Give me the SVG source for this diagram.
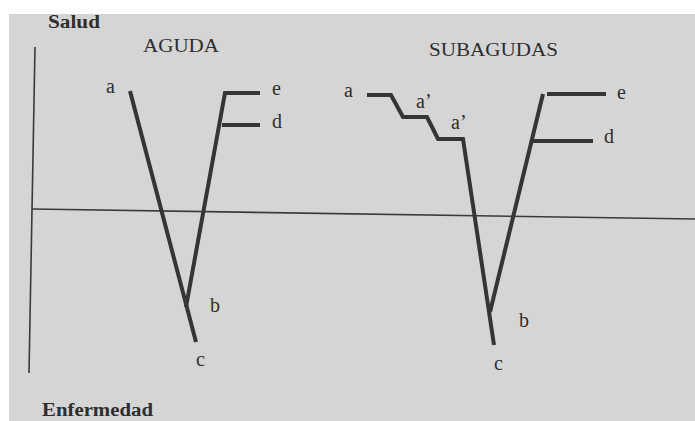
<svg xmlns="http://www.w3.org/2000/svg" width="695" height="421" viewBox="0 0 695 421">
<style>
.t{font-family:"Liberation Serif","Times New Roman",serif;fill:#2e2e2e}
.h{font-size:18px;font-weight:bold}
.ti{font-size:18px}
.l{font-size:20px}
.ax{stroke:#3a3a3a;stroke-width:1.6;fill:none}
.c{stroke:#353535;stroke-width:4;fill:none;stroke-linejoin:miter}
</style>
<rect width="695" height="421" fill="#ffffff"/>
<rect x="9" y="14" width="686" height="407" fill="#d5d5d5"/>
<g id="axes">
<line class="ax" x1="35" y1="47" x2="29" y2="373"/>
<line class="ax" x1="32" y1="209" x2="695" y2="219"/>
</g>
<g id="labels-axes">
<text class="t h" x="48" y="28" textLength="52" lengthAdjust="spacingAndGlyphs">Salud</text>
<text class="t h" x="42" y="416" textLength="111" lengthAdjust="spacingAndGlyphs">Enfermedad</text>
</g>
<g id="connectors">
<polyline class="c" points="130,91 196,342"/>
<polyline class="c" points="186,307 225,93 260,93"/>
<line class="c" x1="222" y1="125" x2="260" y2="125"/>
<polyline class="c" points="367,95 391,95 403,117 427,117 438,139 463,139 494,345"/>
<polyline class="c" points="490,312 543,94"/>
<line class="c" x1="547" y1="94" x2="606" y2="94"/>
<line class="c" x1="531" y1="141" x2="593" y2="141"/>
</g>
<g id="aguda">
<text class="t ti" x="143" y="52" textLength="76" lengthAdjust="spacingAndGlyphs">AGUDA</text>
<text class="t l" x="106" y="93">a</text>
<text class="t l" x="210" y="312">b</text>
<text class="t l" x="196" y="366">c</text>
<text class="t l" x="272" y="128">d</text>
<text class="t l" x="272" y="95">e</text>
</g>
<g id="subagudas">
<text class="t ti" x="429" y="56" textLength="129" lengthAdjust="spacingAndGlyphs">SUBAGUDAS</text>
<text class="t l" x="344" y="97">a</text>
<text class="t l" x="416" y="108">a’</text>
<text class="t l" x="451" y="129">a’</text>
<text class="t l" x="519" y="327">b</text>
<text class="t l" x="494" y="370">c</text>
<text class="t l" x="604" y="143">d</text>
<text class="t l" x="617" y="99">e</text>
</g>
</svg>
